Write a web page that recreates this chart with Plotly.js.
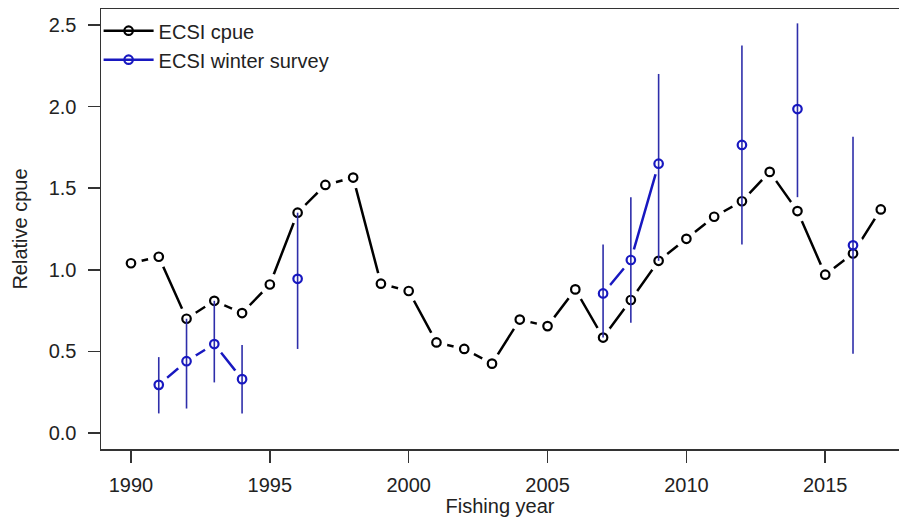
<!DOCTYPE html>
<html>
<head>
<meta charset="utf-8">
<script src="https://cdn.plot.ly/plotly-3.0.1.min.js"></script>
<style>
  html, body { margin: 0; padding: 0; background: #fff; }
  #chart { width: 899px; height: 517px; }
</style>
</head>
<body>
<div id="chart"></div>
<script>
// ECSI relative cpue vs. winter survey index, by fishing year

const YEARS = [
    1990, 1991, 1992, 1993, 1994, 1995, 1996, 1997, 1998, 1999,
    2000, 2001, 2002, 2003, 2004, 2005, 2006, 2007, 2008, 2009,
    2010, 2011, 2012, 2013, 2014, 2015, 2016, 2017,
];

const CPUE = [
    1.04, 1.08, 0.70, 0.81, 0.735, 0.91, 1.35, 1.52, 1.565, 0.915,
    0.87, 0.555, 0.515, 0.425, 0.695, 0.655, 0.88, 0.585, 0.815, 1.055,
    1.19, 1.325, 1.42, 1.60, 1.36, 0.97, 1.10, 1.37,
];

// winter survey: null where there was no survey that year
const SURVEY = [
    null, 0.295, 0.44, 0.545, 0.33, null, 0.945, null, null, null,
    null, null, null, null, null, null, null, 0.855, 1.06, 1.65,
    null, null, 1.765, null, 1.985, null, 1.15, null,
];
const SURVEY_LOWER = [
    null, 0.12, 0.15, 0.31, 0.12, null, 0.515, null, null, null,
    null, null, null, null, null, null, null, 0.585, 0.675, 1.055,
    null, null, 1.155, null, 1.445, null, 0.485, null,
];
const SURVEY_UPPER = [
    null, 0.465, 0.70, 0.81, 0.54, null, 1.35, null, null, null,
    null, null, null, null, null, null, null, 1.155, 1.445, 2.20,
    null, null, 2.375, null, 2.51, null, 1.815, null,
];

const Y_TICKS = [0, 0.5, 1.0, 1.5, 2.0, 2.5];
const X_TICKS = [1990, 1995, 2000, 2005, 2010, 2015];

const BLACK = "#000000";
const BLUE = "#1818c0";
const BAR_BLUE = "#2e2eaa";
const FONT = "Liberation Sans, Arial, sans-serif";
const TEXT = "#222";

// ── traces ──────────────────────────────────────────────────────────────────

function lineTrace(y, color) {
    return {
        x: YEARS, y, type: "scatter", mode: "lines",
        line: { color, width: 2.5 },
        connectgaps: false, showlegend: false, hoverinfo: "skip",
    };
}

// white discs under the circles, so lines stop short of each point (R type="b")
function maskTrace(y) {
    return {
        x: YEARS, y, type: "scatter", mode: "markers",
        marker: { symbol: "circle", size: 22, color: "#ffffff", line: { width: 0 } },
        showlegend: false, hoverinfo: "skip",
    };
}

function circleTrace(y, color) {
    return {
        x: YEARS, y, type: "scatter", mode: "markers",
        marker: { symbol: "circle-open", size: 8.5, color, line: { color, width: 2.2 } },
        showlegend: false,
    };
}

function legendTrace(name, color) {
    return {
        x: [null], y: [null], type: "scatter", mode: "lines+markers", name,
        line: { color, width: 2.5 },
        marker: { symbol: "circle-open", size: 8.5, color, line: { color, width: 2.2 } },
        showlegend: true,
    };
}

const errUp = SURVEY.map((v, i) => (v === null ? null : SURVEY_UPPER[i] - v));
const errDown = SURVEY.map((v, i) => (v === null ? null : v - SURVEY_LOWER[i]));

const traces = [
    lineTrace(CPUE, BLACK),
    lineTrace(SURVEY, BLUE),
    maskTrace(CPUE),
    maskTrace(SURVEY),
    circleTrace(CPUE, BLACK),
    {
        x: YEARS, y: SURVEY, type: "scatter", mode: "markers",
        marker: { size: 1, color: "rgba(0,0,0,0)" },
        error_y: {
            type: "data", symmetric: false, array: errUp, arrayminus: errDown,
            color: BAR_BLUE, thickness: 1.6, width: 0,
        },
        showlegend: false, hoverinfo: "skip",
    },
    circleTrace(SURVEY, BLUE),
    legendTrace("ECSI cpue", BLACK),
    legendTrace("ECSI winter survey", BLUE),
];

// ── layout ──────────────────────────────────────────────────────────────────

const axisCommon = {
    showgrid: false, zeroline: false,
    showline: true, linecolor: "#333", linewidth: 1.5,
    ticks: "outside", ticklen: 12, tickwidth: 1.5, tickcolor: "#333",
    tickfont: { family: FONT, size: 20, color: TEXT },
};

const layout = {
    width: 899, height: 517,
    paper_bgcolor: "#fff", plot_bgcolor: "#fff",
    font: { family: FONT, size: 20, color: TEXT },
    margin: { l: 101, r: 0, t: 9, b: 68 },
    xaxis: Object.assign({}, axisCommon, {
        range: [1988.92, 2017.656], mirror: true,
        tickvals: X_TICKS, ticktext: X_TICKS.map(String),
        ticklabelstandoff: 5,
        title: { text: "Fishing year", font: { family: FONT, size: 20, color: TEXT }, standoff: 20 },
    }),
    yaxis: Object.assign({}, axisCommon, {
        range: [-0.098, 2.598],
        tickvals: Y_TICKS, ticktext: Y_TICKS.map((v) => v.toFixed(1)),
        ticklabelstandoff: 7,
        title: { text: "Relative cpue", font: { family: FONT, size: 20, color: TEXT }, standoff: 15 },
    }),
    showlegend: true,
    legend: {
        x: -0.003, xanchor: "left", y: 0.995, yanchor: "top",
        bgcolor: "rgba(0,0,0,0)", borderwidth: 0,
        font: { family: FONT, size: 20, color: TEXT },
        itemwidth: 50, tracegroupgap: 0,
    },
};

Plotly.newPlot("chart", traces, layout, { displayModeBar: false, staticPlot: true });
</script>
</body>
</html>
